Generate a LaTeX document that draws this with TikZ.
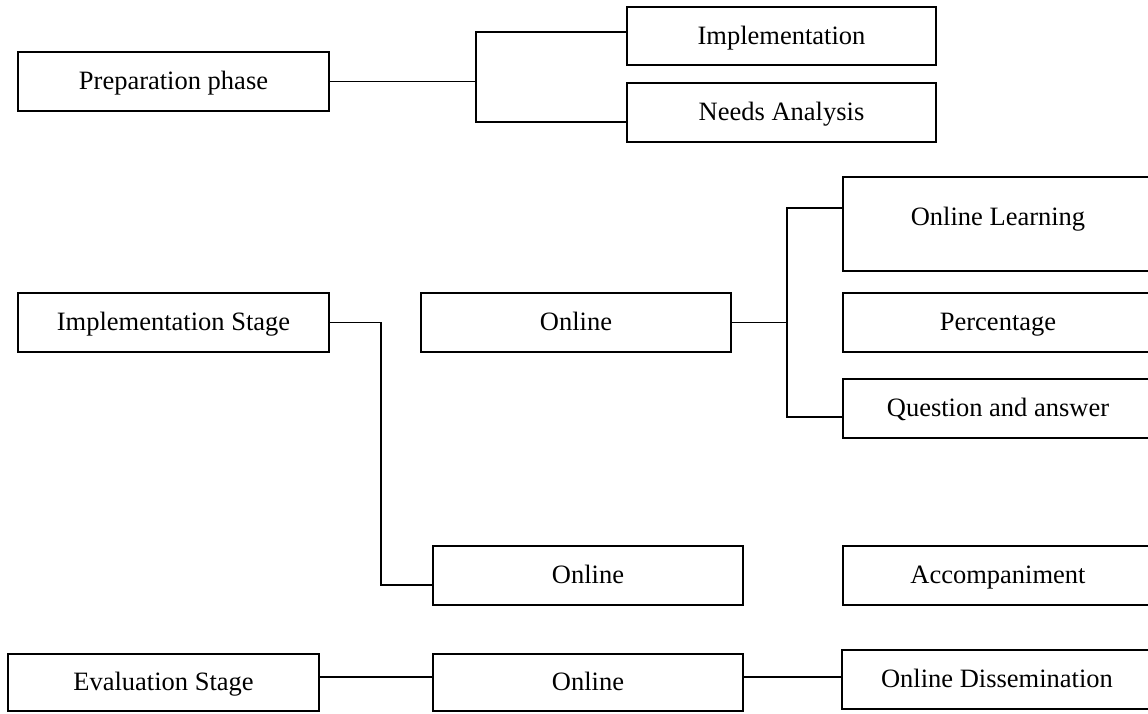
\documentclass[tikz,border=0pt]{standalone}
\usepackage{fontspec}
\setmainfont{Liberation Serif}
\begin{document}
\begin{tikzpicture}[x=1pt,y=-1pt,line width=1.2pt]
                \tikzstyle{every node}=[rectangle,inner sep=0pt,font=\fontsize{26.5}{30}\selectfont,text height=22pt,text depth=5.5pt]
                \tikzstyle{box}=[draw,minimum width=310pt,minimum height=59pt]
                \useasboundingbox (0,0) rectangle (1148,713);

                \node[box,minimum width=311pt] (prep) at (173.5,81.5) {Preparation phase};
                \node[box,minimum width=309pt,minimum height=58pt] (impl) at (781.5,36) {Implementation};
                \node[box,minimum width=309pt] (needs) at (781.5,112.5) {Needs Analysis};

                \node[box,minimum height=94pt,text depth=20pt] (onlearn) at (998,224) {Online Learning};
                \node[box,minimum width=311pt] (stage) at (173.5,322.5) {Implementation Stage};
                \node[box] (online1) at (576,322.5) {Online};
                \node[box] (pct) at (998,322.5) {Percentage};
                \node[box] (qa) at (998,408.5) {Question and answer};

                \node[box] (online2) at (588,575.5) {Online};
                \node[box] (accomp) at (998,575.5) {Accompaniment};

                \node[box,minimum width=311pt,minimum height=57pt] (eval) at (163.5,682.5) {Evaluation Stage};
                \node[box,minimum height=57pt] (online3) at (588,682.5) {Online};
                \node[box] (dissem) at (997,679.5) {Online Dissemination};

                \coordinate (j1) at (476,81.5);
                \coordinate (j2) at (787,322.5);
                \coordinate (j3) at (381,322.5);

                \draw (prep.east) -- (j1);
                \draw (j1) |- ([yshift=4pt]impl.west);
                \draw (j1) |- ([yshift=-9.5pt]needs.west);

                \draw (online1.east) -- (j2);
                \draw (j2) |- ([yshift=16pt]onlearn.west);
                \draw (j2) |- ([yshift=-8.5pt]qa.west);

                \draw (stage.east) -- (j3) |- ([yshift=-9.5pt]online2.west);

                \draw ([yshift=5.5pt]eval.east) -- ([yshift=5.5pt]online3.west);
                \draw ([yshift=5.5pt]online3.east) -- ([yshift=2.5pt]dissem.west);
            \end{tikzpicture}
\end{document}
